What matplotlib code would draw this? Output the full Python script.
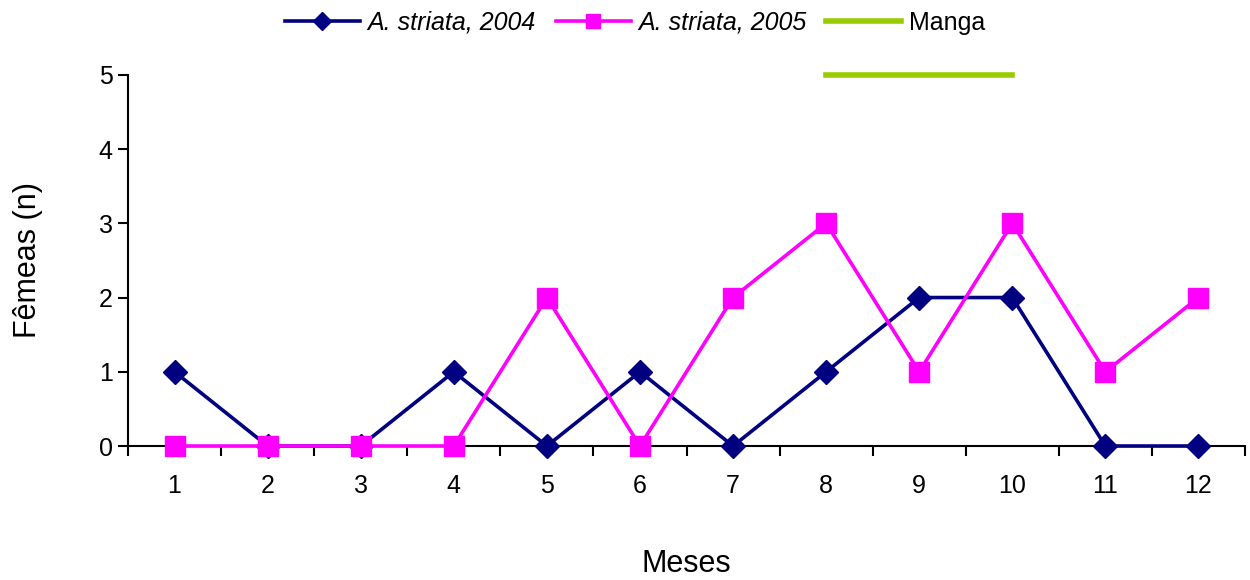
import matplotlib.pyplot as plt

plt.rcParams['font.family'] = ['Liberation Sans', 'DejaVu Sans']

meses = [1, 2, 3, 4, 5, 6, 7, 8, 9, 10, 11, 12]
striata_2004 = [1, 0, 0, 1, 0, 1, 0, 1, 2, 2, 0, 0]
striata_2005 = [0, 0, 0, 0, 2, 0, 2, 3, 1, 3, 1, 2]
manga_meses = [8, 9, 10]
manga_nivel = [5, 5, 5]

fig = plt.figure(figsize=(12.5, 5.8), dpi=100)
ax = fig.add_axes([0.1024, 0.231, 0.8936, 0.640])

ax.plot(meses, striata_2004, color='#000080', lw=2.6, marker='D', ms=12,
        label='A. striata, 2004', clip_on=False, zorder=3)
ax.plot(meses, striata_2005, color='#FF00FF', lw=2.6, marker='s', ms=14,
        label='A. striata, 2005', clip_on=False, zorder=4)
ax.plot(manga_meses, manga_nivel, color='#99CC00', lw=4,
        label='Manga', clip_on=False, zorder=2)

ax.set_xlim(0.5, 12.5)
ax.set_ylim(0, 5)
ax.set_yticks(range(0, 6))
ax.set_xticks(meses)
# month boundaries get the tick marks, labels sit between them
ax.set_xticks([m + 0.5 for m in range(0, 13)], minor=True)
ax.tick_params(axis='x', which='major', length=0, pad=20, labelsize=18)
ax.tick_params(axis='x', which='minor', length=7, width=1.5, direction='out')
ax.tick_params(axis='y', length=7, width=1.5, direction='out', labelsize=18, pad=4)

for s in ['top', 'right']:
    ax.spines[s].set_visible(False)
ax.spines['left'].set_linewidth(1.5)
ax.spines['bottom'].set_linewidth(1.5)

ax.set_xlabel('Meses', fontsize=22, labelpad=37)
ax.set_ylabel('Fêmeas (n)', fontsize=22, labelpad=40)

leg = fig.legend(loc='upper center', bbox_to_anchor=(0.508, 1.02), ncol=3,
                 frameon=False, fontsize=18, handlelength=3.0,
                 handletextpad=0.3, columnspacing=0.8, markerscale=0.75)
for t in leg.get_texts()[:2]:
    t.set_style('italic')

fig.savefig('out.png', dpi=100)
